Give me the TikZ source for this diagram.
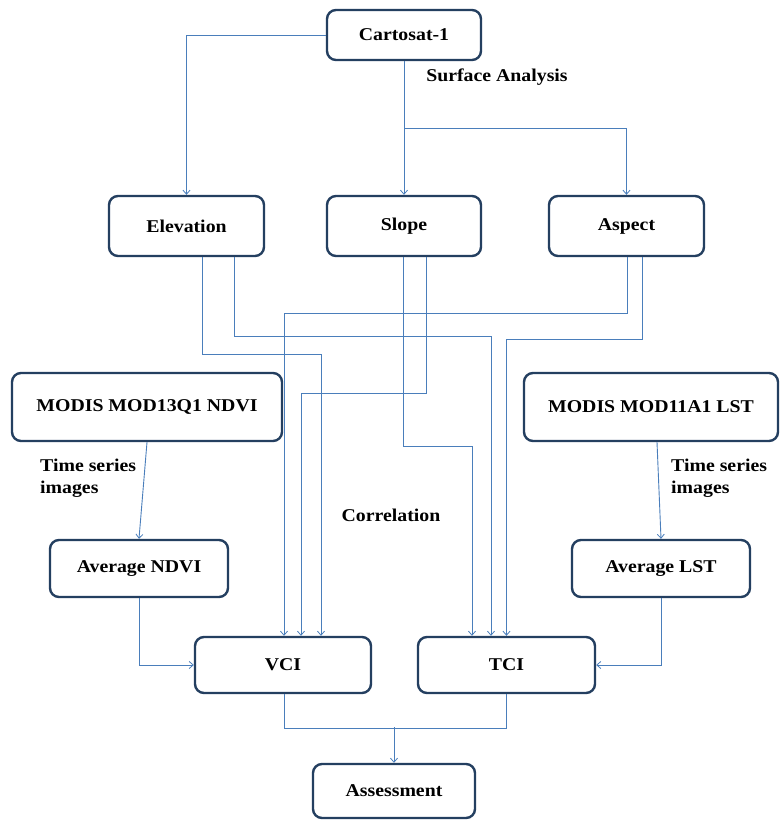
\documentclass[tikz,border=0pt]{standalone}
\usepackage{fontspec}
\setmainfont{Liberation Serif}[FakeStretch=1.1]
\usetikzlibrary{calc,arrows.meta}
\definecolor{boxcol}{HTML}{243F60}
\definecolor{linecol}{HTML}{4A7EBB}
\begin{document}
\begin{tikzpicture}[x=1pt,y=-1pt,
  box/.style={draw=boxcol,line width=2.4pt,rounded corners=9pt,fill=white,
    font=\fontsize{18}{22}\selectfont\bfseries,align=center,inner sep=0pt},
  conn/.style={draw=linecol,line width=0.9pt},
  arr/.style={conn,-{Straight Barb[length=4pt,width=7pt,line width=0.8pt]}},
  lbl/.style={font=\fontsize{18}{22}\selectfont\bfseries,inner sep=0pt}]
\useasboundingbox[fill=white] (0,0) rectangle (781,821);
% boxes
\node[box,minimum width=154pt,minimum height=50pt] (cart) at (404,35) {Cartosat-1};
\node[box,minimum width=155pt,minimum height=60pt] (elev) at (186.5,226) {Elevation};
\node[box,minimum width=154pt,minimum height=60pt] (slope) at (404,226) {Slope};
\node[box,minimum width=155pt,minimum height=60pt] (aspect) at (626.5,226) {Aspect};
\node[box,minimum width=270pt,minimum height=68pt] (ndvi) at (147,407) {MODIS MOD13Q1 NDVI};
\node[box,minimum width=254pt,minimum height=68pt] (lst) at (651,407) {MODIS MOD11A1 LST};
\node[box,minimum width=178pt,minimum height=57pt] (andvi) at (139,568.5) {Average NDVI};
\node[box,minimum width=178pt,minimum height=57pt] (alst) at (661,568.5) {Average LST};
\node[box,minimum width=176pt,minimum height=56pt] (vci) at (283,665) {VCI};
\node[box,minimum width=177pt,minimum height=56pt] (tci) at (506.5,665) {TCI};
\node[box,minimum width=162pt,minimum height=54pt] (assess) at (394,791) {Assessment};
% labels
\node[lbl] (sa) at (497,77) {Surface Analysis};
\node[lbl] (corr) at (391,515) {Correlation};
\node[lbl,anchor=west,align=left] (tsl) at (40,478) {Time series\\images};
\node[lbl,anchor=west,align=left] (tsr) at (671,478) {Time series\\images};
% coordinates
\coordinate (br) at (404,128);
\coordinate (jn) at (394,727);
\coordinate (V1) at ($(vci.north)+(1,0)$);
\coordinate (V2) at ($(vci.north)+(18,0)$);
\coordinate (V3) at ($(vci.north)+(38,0)$);
\coordinate (T1) at ($(tci.north)+(-34.5,0)$);
\coordinate (T2) at ($(tci.north)+(-15.5,0)$);
\coordinate (T3) at ($(tci.north)+(0,0)$);
% top connectors
\draw[arr] (cart.west) -| (elev.north);
\draw[arr] (cart.south) -- (slope.north);
\draw[arr] (br) -| (aspect.north);
% to VCI / TCI
\draw[arr] ($(elev.south)+(15.5,0)$) -- ++(0,97) -| (V3);
\draw[arr] ($(elev.south)+(47.5,0)$) -- ++(0,79) -| (T2);
\draw[arr] ($(slope.south)+(22,0)$) -- ++(0,136) -| (V2);
\draw[arr] ($(slope.south)+(-1,0)$) -- ++(0,189) -| (T1);
\draw[arr] ($(aspect.south)+(0.5,0)$) -- ++(0,56) -| (V1);
\draw[arr] ($(aspect.south)+(15.5,0)$) -- ++(0,82) -| (T3);
% MODIS
\draw[arr] (ndvi.south) -- (andvi.north);
\draw[arr] ($(lst.south)+(6,0)$) -- (alst.north);
\draw[arr] (andvi.south) |- (vci.west);
\draw[arr] (alst.south) |- (tci.east);
% assessment
\draw[conn] ($(vci.south)+(1,0)$) -- ++(0,34) -| (tci.south);
\draw[arr] (jn) -- (assess.north);
\end{tikzpicture}
\end{document}
